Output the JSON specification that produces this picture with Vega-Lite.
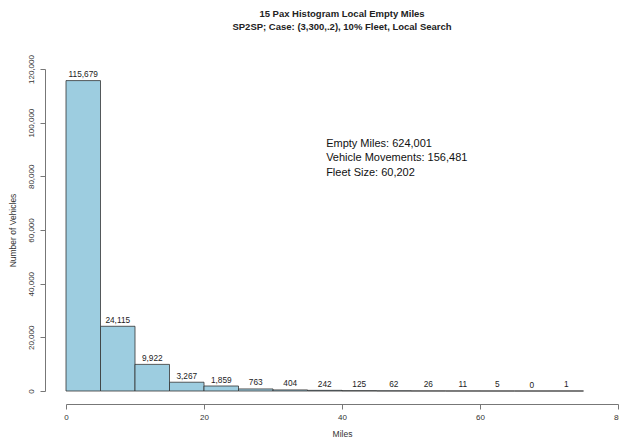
{
  "$schema": "https://vega.github.io/schema/vega-lite/v6.json",
  "width": 552,
  "height": 322,
  "autosize": {"type": "none"},
  "padding": {"left": 66, "top": 69, "right": 1, "bottom": 53},
  "background": "white",
  "config": {
    "font": "Liberation Sans",
    "view": {"stroke": null},
    "axis": {"grid": false, "labelFlush": false, "labelOverlap": false, "domainColor": "#777", "tickColor": "#777", "labelColor": "#333", "titleColor": "#333", "labelFontSize": 8, "titleFontSize": 8.5, "titleFontWeight": "normal", "tickSize": 5, "labelFont": "Liberation Sans", "titleFont": "Liberation Sans"}
  },
  "title": {
    "text": ["15 Pax Histogram Local Empty Miles", "SP2SP; Case: (3,300,.2), 10% Fleet, Local Search"],
    "fontSize": 9.5,
    "fontWeight": "bold",
    "lineHeight": 12.6,
    "color": "#222",
    "anchor": "middle",
    "frame": "group",
    "offset": 23
  },
  "datasets": {
    "bins": [
      {"start": 0, "end": 5, "count": 115679},
      {"start": 5, "end": 10, "count": 24115},
      {"start": 10, "end": 15, "count": 9922},
      {"start": 15, "end": 20, "count": 3267},
      {"start": 20, "end": 25, "count": 1859},
      {"start": 25, "end": 30, "count": 763},
      {"start": 30, "end": 35, "count": 404},
      {"start": 35, "end": 40, "count": 242},
      {"start": 40, "end": 45, "count": 125},
      {"start": 45, "end": 50, "count": 62},
      {"start": 50, "end": 55, "count": 26},
      {"start": 55, "end": 60, "count": 11},
      {"start": 60, "end": 65, "count": 5},
      {"start": 65, "end": 70, "count": 0},
      {"start": 70, "end": 75, "count": 1}
    ],
    "stats": [
      {"start": 37.7, "count": 92050, "label": ["Empty Miles: 624,001", "Vehicle Movements: 156,481", "Fleet Size: 60,202"]}
    ]
  },
  "encoding": {
    "x": {"field": "start", "type": "quantitative", "scale": {"domain": [0, 80], "nice": false, "zero": false},
      "axis": {"title": "Miles", "values": [0, 20, 40, 60, 80], "format": "d", "offset": 13, "labelPadding": 4, "titlePadding": 8}},
    "y": {"field": "count", "type": "quantitative", "scale": {"domain": [0, 120000], "nice": false},
      "axis": {"title": "Number of Vehicles", "values": [0, 20000, 40000, 60000, 80000, 100000, 120000], "format": ",d", "offset": 21, "labelAngle": -90, "labelAlign": "center", "labelBaseline": "bottom", "labelPadding": 5, "titlePadding": 10}}
  },
  "layer": [
    {
      "data": {"name": "bins"},
      "mark": {"type": "rect", "fill": "#9dcde0", "stroke": "#333", "strokeWidth": 0.8},
      "encoding": {
        "x2": {"field": "end"},
        "y2": {"datum": 0}
      }
    },
    {
      "data": {"name": "bins"},
      "mark": {"type": "text", "baseline": "bottom", "align": "center", "dx": 17.25, "dy": -1.5, "fontSize": 8.3, "color": "#222"},
      "encoding": {
        "text": {"field": "count", "type": "quantitative", "format": ","}
      }
    },
    {
      "data": {"name": "stats"},
      "mark": {"type": "text", "align": "left", "baseline": "middle", "fontSize": 11, "lineHeight": 14.3, "color": "#111"},
      "encoding": {
        "text": {"field": "label"}
      }
    }
  ]
}
